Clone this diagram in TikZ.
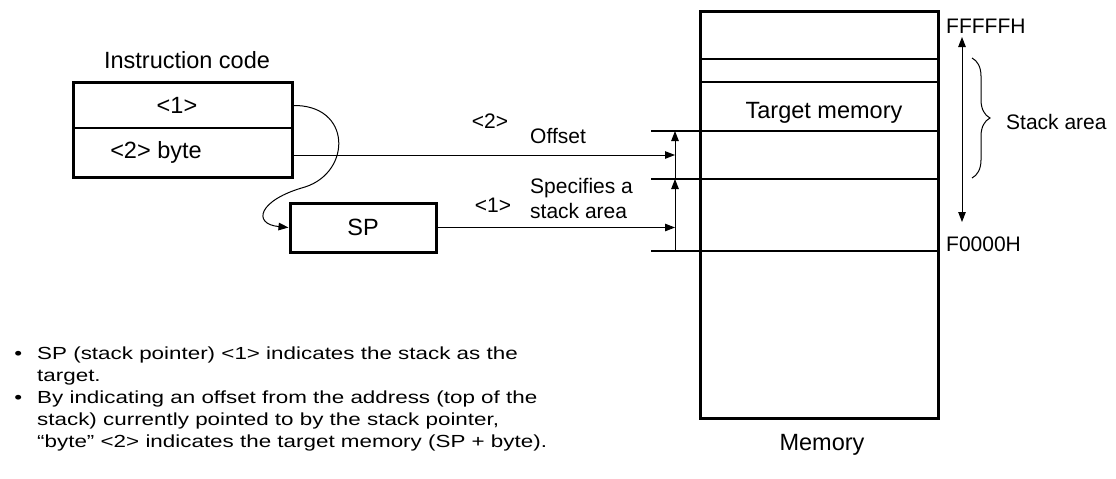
\documentclass[tikz,border=0pt]{standalone}
\usepackage{fontspec}
\setmainfont{Liberation Sans}
\newfontfamily\notefont[FakeStretch=1.28]{Liberation Sans}
\usetikzlibrary{arrows.meta, positioning, calc, decorations.pathreplacing}
\tikzset{
  rowbox/.style={rectangle, minimum width=218pt, inner sep=0pt,
    font=\fontsize{23.5}{26}\selectfont},
  spbox/.style={rectangle, draw=black, line width=3pt, minimum width=146pt,
    minimum height=49pt, inner sep=0pt, font=\fontsize{23.5}{26}\selectfont},
  membox/.style={rectangle, draw=black, line width=3pt, minimum width=238pt,
    minimum height=407pt, inner sep=0pt},
  boxlbl/.style={inner sep=0pt, anchor=base, font=\fontsize{23.5}{26}\selectfont},
  sidelbl/.style={inner sep=0pt, anchor=base west, font=\fontsize{21}{24.5}\selectfont},
  notelbl/.style={inner sep=0pt, anchor=base west, align=left,
    font=\notefont\fontsize{17.5}{22}\selectfont},
  arrow/.style={-{Triangle[length=10pt,width=7.5pt]}, line width=1pt},
  dblarrow/.style={{Triangle[length=10pt,width=7.5pt]}-{Triangle[length=10pt,width=7.5pt]}, line width=1pt},
  line/.style={line width=1pt},
  memline/.style={line width=1.6pt}
}

\begin{document}
\begin{tikzpicture}[x=1pt, y=-1pt]
  \useasboundingbox (0,0) rectangle (1116,479);
  % Instruction code
  \node[rowbox, minimum height=45pt] (op1) at (183,105.5) {\hspace*{-12pt}<1>};
  \node[rowbox, minimum height=49pt, below=0pt of op1] (op2) {\hspace*{-54pt}<2> byte};
  \draw[line width=3pt] (op1.north west) rectangle (op2.south east);
  \draw[memline] (op1.south west) -- (op1.south east);
  \node[boxlbl] (ictitle) at (187,68) {Instruction code};
  \node[spbox] (sp) at (363,227.5) {SP};

  % Memory
  \node[membox] (mem) at (819,214.5) {};
  \foreach \y in {59,82} \draw[memline] (700,\y) -- (938,\y);
  \foreach \y/\n in {131/top,179/mid,251/bot} {
    \draw[memline] (651,\y) -- (938,\y);
    \coordinate (t\n) at (675,\y);
  }
  \node[boxlbl] (tmem) at (824,118) {Target memory};
  \node[boxlbl] (memlbl) at (822,450) {Memory};
  \node[sidelbl] (hi) at (946,33) {FFFFFH};
  \node[sidelbl] (lo) at (946,251) {F0000H};
  \coordinate (ahi) at (962,37);
  \coordinate (alo) at (962,222);
  \draw[dblarrow] (alo) -- (ahi);
  % Stack area brace
  \coordinate (btop) at (972,58);
  \coordinate (bbot) at (972,178);
  \draw[line, decorate, decoration={brace, amplitude=18pt}] (btop) -- (bbot);
  \node[sidelbl] (stk) at (1006,129) {Stack area};

  % Offset and base arrows
  \draw[arrow] (tbot) -- (tmid);
  \draw[arrow] (tmid) -- (ttop);
  \draw[arrow] (op2.east |- 0,155) -- (ttop |- 0,155);
  \draw[arrow] (sp.east) -- (tbot |- sp.east);
  \node[sidelbl, anchor=base] (n2) at (490,128) {<2>};
  \node[sidelbl] (offs) at (530,143) {Offset};
  \node[sidelbl, anchor=base] (n1) at (493,212) {<1>};
  \node[sidelbl, align=left] (spec) at (530,218) {Specifies a\\stack area};

  % <1> to SP
  \draw[arrow] (op1.east) .. controls (352,104) and (352,172) .. (305,187)
    .. controls (258,200) and (252,224) .. (sp.west);

  % Notes (base anchor sits on the last line)
  \node[notelbl] (note1) at (37,381)
    {\llap{\textbullet\hspace{15pt}}SP (stack pointer) <1> indicates the stack as the\\
     target.};
  \node[notelbl] (note2) at (37,447)
    {\llap{\textbullet\hspace{15pt}}By indicating an offset from the address (top of the\\
     stack) currently pointed to by the stack pointer,\\
     “byte” <2> indicates the target memory (SP + byte).};
\end{tikzpicture}
\end{document}
